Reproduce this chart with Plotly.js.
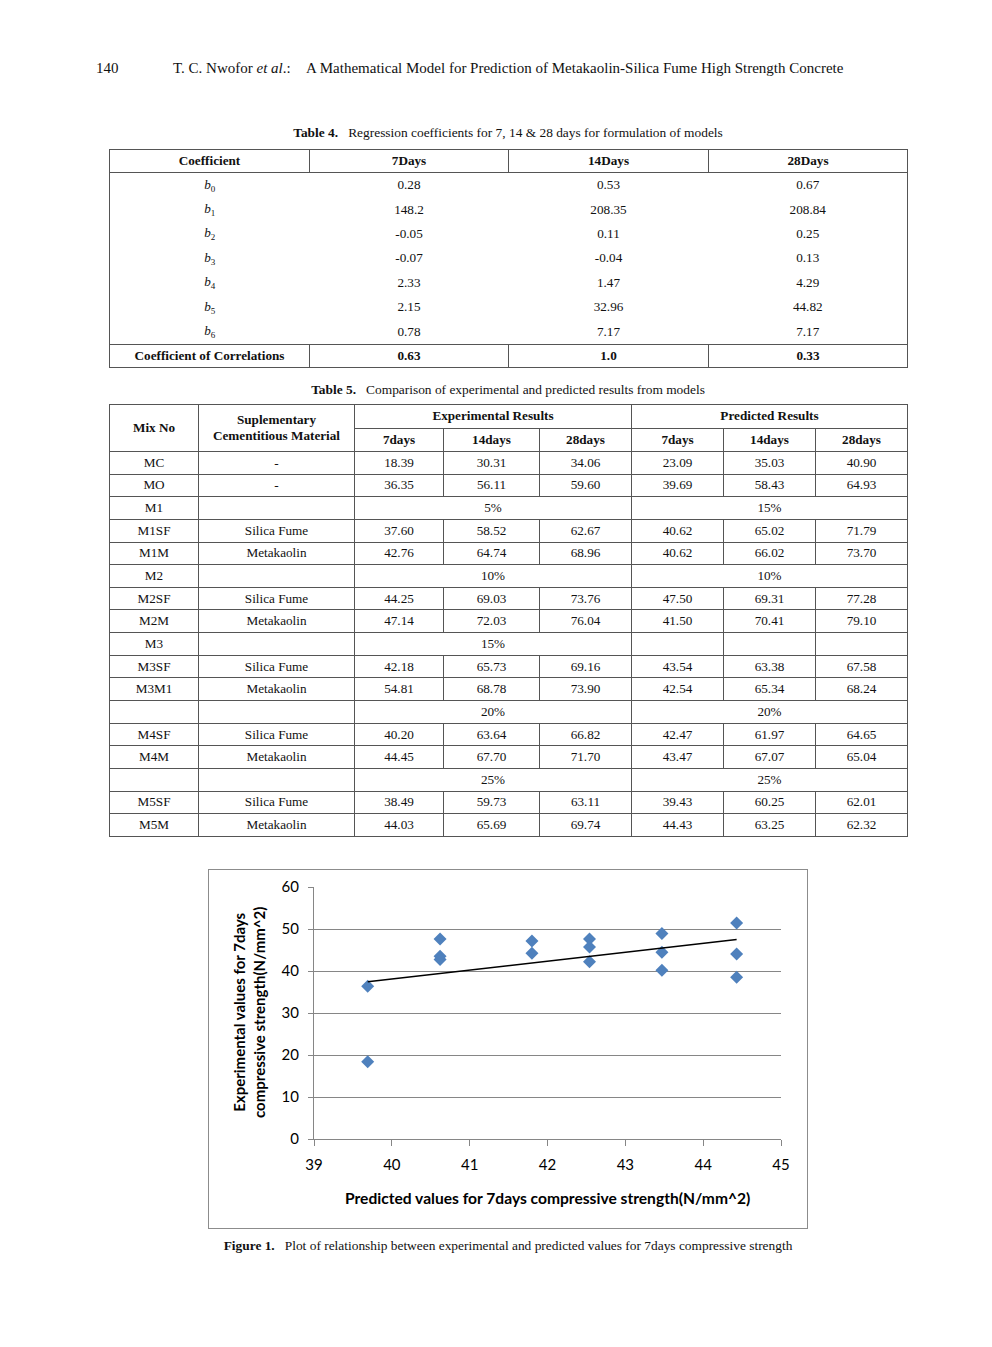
<!DOCTYPE html>
<html>
<head>
<meta charset="utf-8">
<script src="https://cdn.plot.ly/plotly-3.0.1.min.js"></script>
<style>
body { margin:0; background:#fff; font-family:"Liberation Serif","Times New Roman",serif; color:#111; }
#page { position:relative; width:992px; height:1347px; }
.abs { position:absolute; white-space:nowrap; }
table { border-collapse:collapse; table-layout:fixed; position:absolute; font-size:13.2px; font-family:"Liberation Serif","Times New Roman",serif; color:#111; }
td, th { text-align:center; padding:0; overflow:hidden; white-space:nowrap; font-family:"Liberation Serif","Times New Roman",serif; }
#t4 { left:109px; top:149px; width:798px; border:1.5px solid #555; }
#t4 th { height:22px; border:1px solid #555; font-weight:bold; }
#t4 td { height:24.4px; }
#t4 tr.last td { height:22px; border:1px solid #555; font-weight:bold; }
#t5 { left:109px; top:404px; width:798px; border:1.5px solid #555; }
#t5 th, #t5 td { border:1px solid #555; }
#t5 th { font-weight:bold; height:22.5px; }
#t5 td { height:21.65px; }
sub { font-size:9px; vertical-align:-3px; }
.cap { font-size:13.4px; }
#frame { position:absolute; left:208px; top:869px; width:600px; height:360px; border:1.5px solid #8c8c8c; box-sizing:border-box; }
#chart { position:absolute; left:208px; top:869px; width:600px; height:360px; }
</style>
</head>
<body>
<div id="page">
  <div class="abs" style="left:96px; top:60px; font-size:15px;">140</div>
  <div class="abs" style="left:173px; top:60px; font-size:15px;">T. C. Nwofor <i>et al</i>.:</div>
  <div class="abs" style="left:306px; top:60px; font-size:15px;">A Mathematical Model for Prediction of Metakaolin-Silica Fume High Strength Concrete</div>

  <div class="abs cap" style="left:0; width:1016px; text-align:center; top:125px;"><b>Table 4.</b>&nbsp;&nbsp; Regression coefficients for 7, 14 &amp; 28 days for formulation of models</div>
  <table id="t4"></table>

  <div class="abs cap" style="left:0; width:1016px; text-align:center; top:382px;"><b>Table 5.</b>&nbsp;&nbsp; Comparison of experimental and predicted results from models</div>
  <table id="t5"></table>

  <div id="frame"></div>
  <div id="chart"></div>

  <div class="abs cap" style="left:0; width:1016px; text-align:center; top:1238px;"><b>Figure 1.</b>&nbsp;&nbsp; Plot of relationship between experimental and predicted values for 7days compressive strength</div>
</div>

<script>
// Table 4 - regression coefficients
var coefHeads = ['Coefficient', '7Days', '14Days', '28Days'];
var coefSub = ['0', '1', '2', '3', '4', '5', '6'];
var coef7 = ['0.28', '148.2', '-0.05', '-0.07', '2.33', '2.15', '0.78'];
var coef14 = ['0.53', '208.35', '0.11', '-0.04', '1.47', '32.96', '7.17'];
var coef28 = ['0.67', '208.84', '0.25', '0.13', '4.29', '44.82', '7.17'];
var corrLabel = 'Coefficient of Correlations';
var corrVals = ['0.63', '1.0', '0.33'];

// Table 5 - experimental vs predicted
var mixNo = ['MC','MO','M1','M1SF','M1M','M2','M2SF','M2M','M3','M3SF','M3M1','','M4SF','M4M','','M5SF','M5M'];
var material = ['-','-','','Silica Fume','Metakaolin','','Silica Fume','Metakaolin','','Silica Fume','Metakaolin','','Silica Fume','Metakaolin','','Silica Fume','Metakaolin'];
var exp7 = ['18.39','36.35','','37.60','42.76','','44.25','47.14','','42.18','54.81','','40.20','44.45','','38.49','44.03'];
var exp14 = ['30.31','56.11','','58.52','64.74','','69.03','72.03','','65.73','68.78','','63.64','67.70','','59.73','65.69'];
var exp28 = ['34.06','59.60','','62.67','68.96','','73.76','76.04','','69.16','73.90','','66.82','71.70','','63.11','69.74'];
var pred7 = ['23.09','39.69','','40.62','40.62','','47.50','41.50','','43.54','42.54','','42.47','43.47','','39.43','44.43'];
var pred14 = ['35.03','58.43','','65.02','66.02','','69.31','70.41','','63.38','65.34','','61.97','67.07','','60.25','63.25'];
var pred28 = ['40.90','64.93','','71.79','73.70','','77.28','79.10','','67.58','68.24','','64.65','65.04','','62.01','62.32'];
var expPct = [null,null,'5%',null,null,'10%',null,null,'15%',null,null,'20%',null,null,'25%',null,null];
var predPct = [null,null,'15%',null,null,'10%',null,null,null,null,null,'20%',null,null,'25%',null,null];

// Figure 1
var predX = [39.69, 39.69, 40.62, 40.62, 40.62, 41.80, 41.80, 42.54, 42.54, 42.54, 43.47, 43.47, 43.47, 44.43, 44.43, 44.43];
var expY = [36.35, 18.39, 47.6, 43.5, 42.76, 47.14, 44.25, 47.6, 45.7, 42.18, 48.9, 44.45, 40.20, 51.4, 44.03, 38.49];
var trendX = [39.69, 44.43];
var trendY = [37.45, 47.5];

// build table 4
var h = '<colgroup><col style="width:200px"><col style="width:199px"><col style="width:200px"><col style="width:199px"></colgroup>';
h += '<tr>' + coefHeads.map(function (c) { return '<th>' + c + '</th>'; }).join('') + '</tr>';
for (var i = 0; i < coefSub.length; i++) {
  h += '<tr><td><i>b</i><sub>' + coefSub[i] + '</sub></td><td>' + coef7[i] + '</td><td>' + coef14[i] + '</td><td>' + coef28[i] + '</td></tr>';
}
h += '<tr class="last"><td>' + corrLabel + '</td>' + corrVals.map(function (v) { return '<td>' + v + '</td>'; }).join('') + '</tr>';
document.getElementById('t4').innerHTML = h;

// build table 5
var w5 = [89, 156, 89, 96, 92, 92, 92, 92];
h = '<colgroup>' + w5.map(function (w) { return '<col style="width:' + w + 'px">'; }).join('') + '</colgroup>';
h += '<tr><th rowspan="2">Mix No</th><th rowspan="2">Suplementary<br>Cementitious Material</th><th colspan="3">Experimental Results</th><th colspan="3">Predicted Results</th></tr>';
h += '<tr><th>7days</th><th>14days</th><th>28days</th><th>7days</th><th>14days</th><th>28days</th></tr>';
for (i = 0; i < mixNo.length; i++) {
  h += '<tr><td>' + mixNo[i] + '</td><td>' + material[i] + '</td>';
  if (expPct[i] !== null) h += '<td colspan="3">' + expPct[i] + '</td>';
  else h += '<td>' + exp7[i] + '</td><td>' + exp14[i] + '</td><td>' + exp28[i] + '</td>';
  if (predPct[i] !== null) h += '<td colspan="3">' + predPct[i] + '</td>';
  else h += '<td>' + pred7[i] + '</td><td>' + pred14[i] + '</td><td>' + pred28[i] + '</td>';
  h += '</tr>';
}
document.getElementById('t5').innerHTML = h;

// chart
var axisGray = '#868686';
var cfont = 'Lato, "Open Sans", sans-serif';
var data = [
  { x: predX, y: expY, type: 'scatter', mode: 'markers',
    marker: { symbol: 'diamond', size: 10, color: '#4F81BD' }, name: 'values' },
  { x: trendX, y: trendY, type: 'scatter', mode: 'lines',
    line: { color: '#000', width: 1.5 }, name: 'trend' }
];
var layout = {
  width: 600, height: 360,
  margin: { l: 106, r: 27, t: 18, b: 90 },
  paper_bgcolor: 'rgba(0,0,0,0)', plot_bgcolor: 'rgba(0,0,0,0)',
  showlegend: false,
  font: { family: cfont, size: 15, color: '#000' },
  xaxis: { range: [39, 45], dtick: 1, tick0: 39, showgrid: false, zeroline: false,
    showline: true, linecolor: axisGray, linewidth: 1, ticks: 'outside', ticklen: 6,
    tickcolor: axisGray, ticklabelstandoff: 6, tickfont: { family: cfont, size: 15 } },
  yaxis: { range: [0, 60], dtick: 10, showgrid: true, gridcolor: axisGray, gridwidth: 1,
    zeroline: false, showline: true, linecolor: axisGray, linewidth: 1, ticks: 'outside',
    ticklen: 5, tickcolor: axisGray, ticklabelstandoff: 6, tickfont: { family: cfont, size: 15 } },
  annotations: [
    { text: '<b>Predicted values for 7days compressive strength(N/mm^2)</b>', xref: 'paper', yref: 'paper',
      x: 0.5, y: 0, yshift: -59, xanchor: 'center', yanchor: 'middle', showarrow: false,
      font: { family: cfont, size: 15.6 } },
    { text: '<b>Experimental values for 7days<br>compressive strength(N/mm^2)</b>', xref: 'paper', yref: 'paper',
      x: 0, xshift: -65, y: 0.5, xanchor: 'center', yanchor: 'middle', textangle: -90, showarrow: false,
      font: { family: cfont, size: 15 } }
  ]
};
Plotly.newPlot('chart', data, layout, { displayModeBar: false, staticPlot: true });
</script>
</body>
</html>
